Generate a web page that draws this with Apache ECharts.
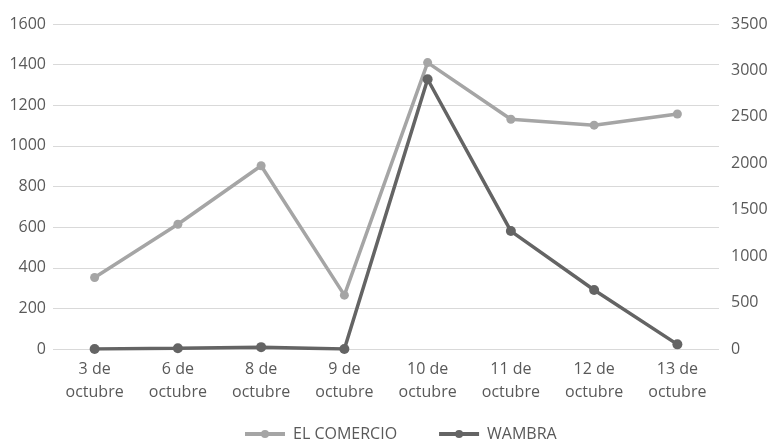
<!DOCTYPE html>
<html><head><meta charset="utf-8">
<script src="https://cdn.jsdelivr.net/npm/echarts@6/dist/echarts.min.js"></script>
<style>html,body{margin:0;padding:0;background:#fff}#c{width:771px;height:440px}</style>
</head><body><div id="c"></div>
<script>
const categories = ['3 de\noctubre','6 de\noctubre','8 de\noctubre','9 de\noctubre','10 de\noctubre','11 de\noctubre','12 de\noctubre','13 de\noctubre'];
const elComercio = [352, 614, 902, 265, 1410, 1131, 1102, 1157];
const wambra = [0, 8, 20, 0, 2905, 1270, 635, 50];
const leftTicks = [0, 1600, 200];
const rightTicks = [0, 3500, 500];

const txt = '#595959';
const font = 'Open Sans';
const chart = echarts.init(document.getElementById('c'));
chart.setOption({
  animation: false,
  grid: {left: 53, right: 52, top: 24, bottom: 91},
  legend: {
    left: 238, top: 421, padding: 5, itemWidth: 40, itemHeight: 10, itemGap: 40,
    lineStyle: {width: 4},
    itemStyle: {borderWidth: 0},
    textStyle: {color: txt, fontSize: 16, fontFamily: font, padding: [0, 0, 0, 3]},
    data: ['EL COMERCIO', 'WAMBRA']
  },
  xAxis: {
    type: 'category', data: categories, boundaryGap: true,
    axisLine: {show: false}, axisTick: {show: false},
    axisLabel: {color: txt, fontSize: 16, fontFamily: font, lineHeight: 23, margin: 9, interval: 0}
  },
  yAxis: [
    {type: 'value', min: leftTicks[0], max: leftTicks[1], interval: leftTicks[2],
     axisLabel: {color: txt, fontSize: 16, fontFamily: font, margin: 7, formatter: v => String(v)},
     splitLine: {lineStyle: {color: '#d9d9d9', width: 1}}},
    {type: 'value', min: rightTicks[0], max: rightTicks[1], interval: rightTicks[2],
     axisLabel: {color: txt, fontSize: 16, fontFamily: font, margin: 12, formatter: v => String(v)},
     splitLine: {show: false}}
  ],
  series: [
    {name: 'EL COMERCIO', type: 'line', yAxisIndex: 0, data: elComercio,
     symbol: 'circle', symbolSize: 9,
     itemStyle: {color: '#a5a5a5'}, lineStyle: {color: '#a5a5a5', width: 3.5}},
    {name: 'WAMBRA', type: 'line', yAxisIndex: 1, data: wambra,
     symbol: 'circle', symbolSize: 10,
     itemStyle: {color: '#646464'}, lineStyle: {color: '#646464', width: 3.5}}
  ]
});
</script></body></html>
